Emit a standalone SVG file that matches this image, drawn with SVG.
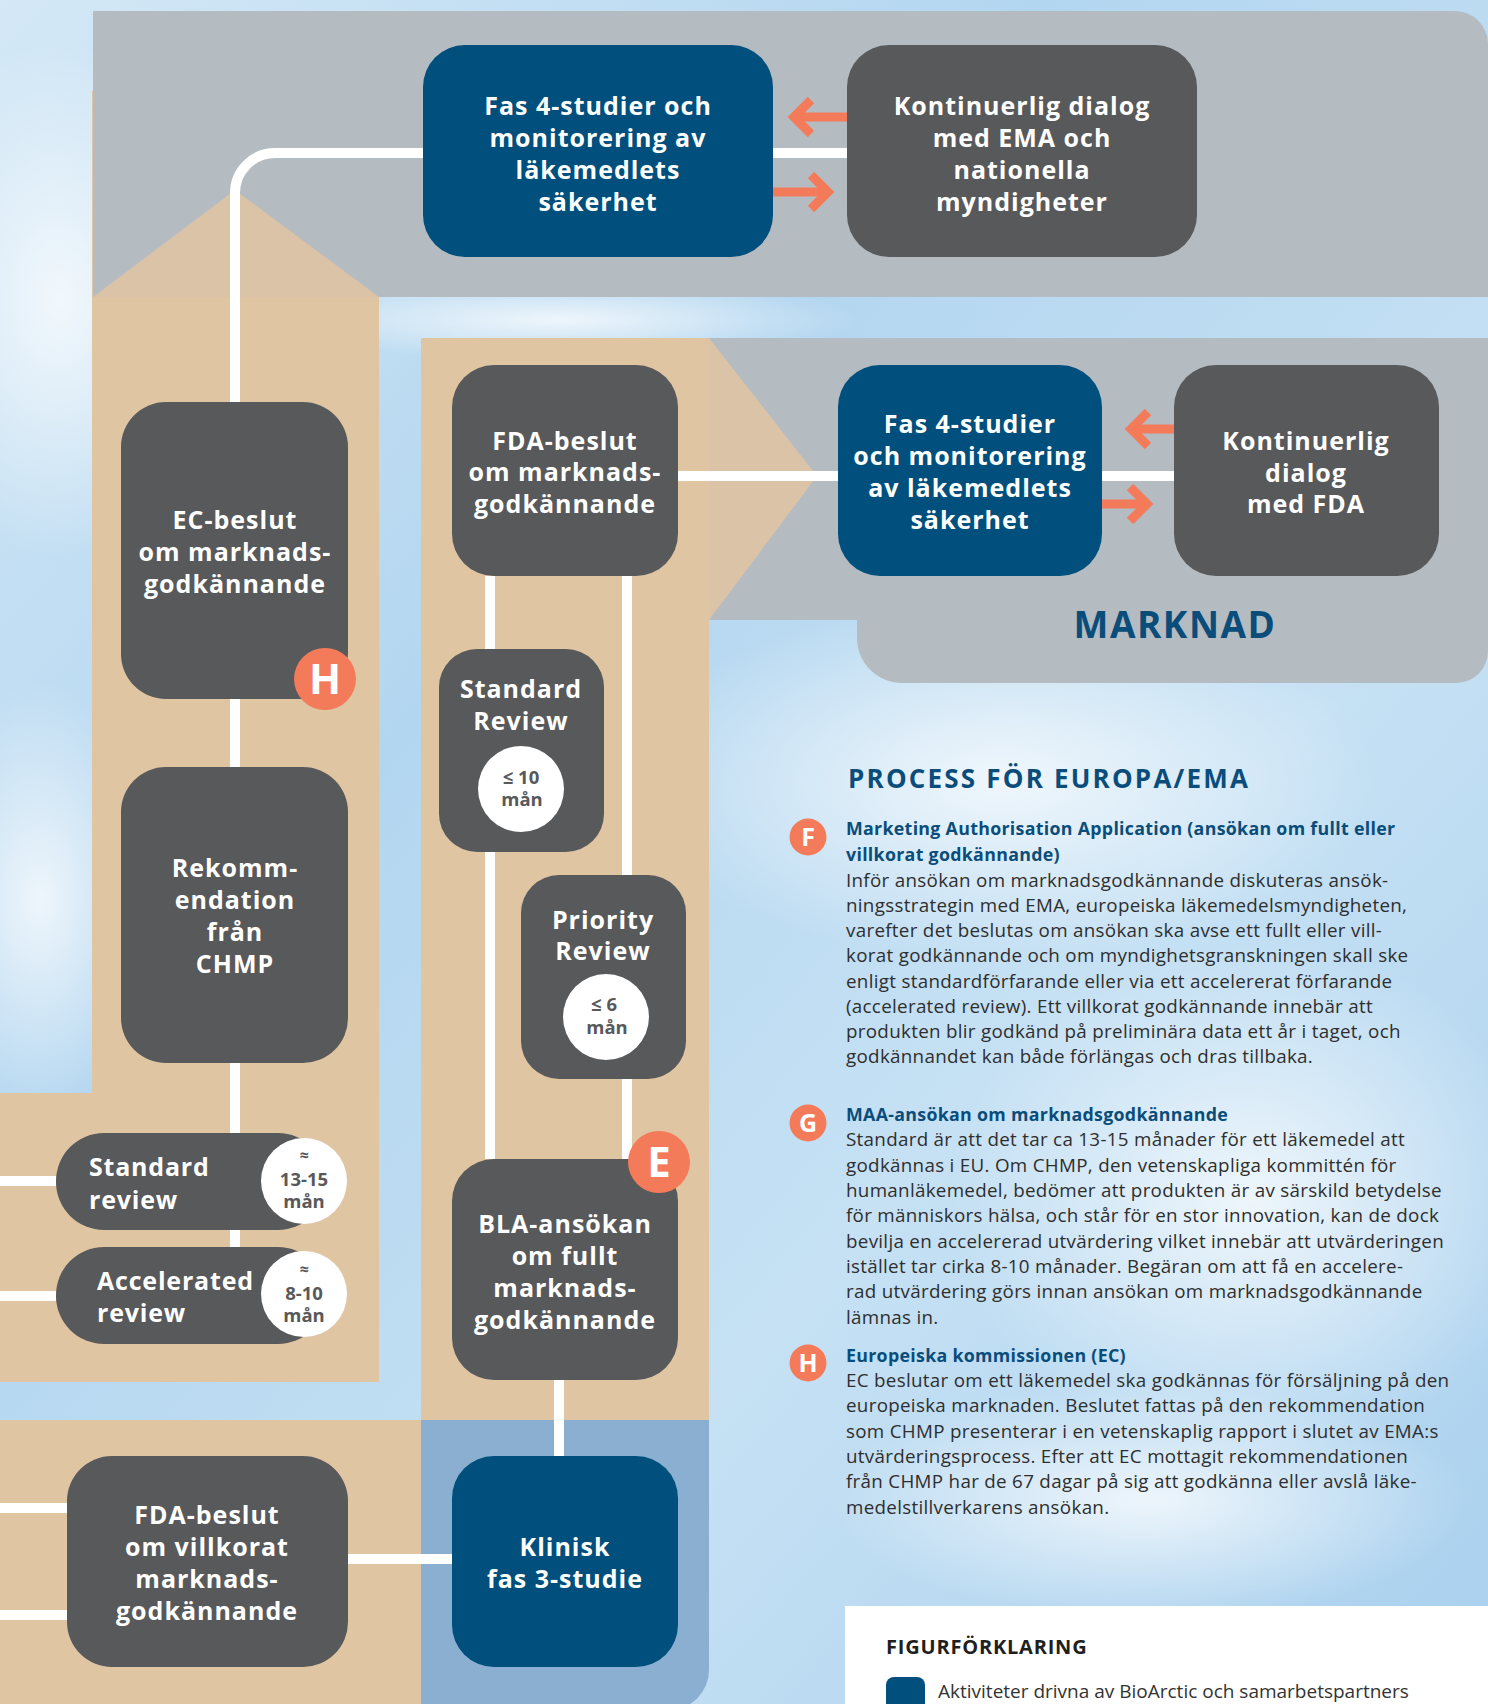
<svg xmlns="http://www.w3.org/2000/svg" width="1488" height="1704" viewBox="0 0 1488 1704">
<defs>
<linearGradient id="bg" x1="0" y1="0" x2="1" y2="1">
<stop offset="0" stop-color="#d4e8f6"/>
<stop offset="0.35" stop-color="#b3d6f0"/>
<stop offset="0.65" stop-color="#c6e1f4"/>
<stop offset="1" stop-color="#a9d0ee"/>
</linearGradient>
<radialGradient id="cloud" cx="0.5" cy="0.5" r="0.5">
<stop offset="0" stop-color="#ffffff" stop-opacity="0.75"/>
<stop offset="1" stop-color="#ffffff" stop-opacity="0"/>
</radialGradient>
<marker id="chev" markerUnits="userSpaceOnUse" viewBox="0 0 32 40" markerWidth="32" markerHeight="40" refX="22" refY="20" orient="auto">
<path d="M5,3 L22,20 L5,37" fill="none" stroke="#f47b5a" stroke-width="9"/>
</marker>
<style>
.gray{fill:#b4bbc1}
.tan{fill:#e0c5a3}
.tri{fill:#dac3a6}
.dk{fill:#58595b}
.bl{fill:#004f7c}
.badge{fill:#f47b5a}
.wl{stroke:#ffffff;stroke-width:10;fill:none}
.ar{stroke:#f47b5a;stroke-width:9;fill:none;marker-end:url(#chev)}
.nt{font-family:"Open Sans","Liberation Sans",sans-serif;font-weight:700;font-size:25px;fill:#ffffff;text-anchor:middle;letter-spacing:1px}
.pt{font-family:"Open Sans","Liberation Sans",sans-serif;font-weight:700;font-size:25px;fill:#ffffff;letter-spacing:0.8px}
.ct{font-family:"Open Sans","Liberation Sans",sans-serif;font-weight:700;font-size:18.5px;fill:#58595b;text-anchor:middle}
.cs{font-family:"Open Sans","Liberation Sans",sans-serif;font-weight:700;font-size:16px;fill:#58595b;text-anchor:middle}
.bt{font-family:"Open Sans","Liberation Sans",sans-serif;font-weight:700;font-size:42px;fill:#ffffff;text-anchor:middle}
.sbt{font-family:"Open Sans","Liberation Sans",sans-serif;font-weight:700;font-size:25px;fill:#ffffff;text-anchor:middle}
.mk{font-family:"Open Sans","Liberation Sans",sans-serif;font-weight:700;font-size:37px;fill:#0a4d7a;text-anchor:middle;letter-spacing:1.5px}
.h1{font-family:"Open Sans","Liberation Sans",sans-serif;font-weight:700;font-size:26px;fill:#0a4d7a;letter-spacing:2.2px}
.h2{font-family:"Open Sans","Liberation Sans",sans-serif;font-weight:700;font-size:17.8px;fill:#0a4d7a;letter-spacing:0.3px}
.tx{font-family:"Open Sans","Liberation Sans",sans-serif;font-size:18.8px;fill:#2e2e2e;letter-spacing:0.3px}
.lg{font-family:"Open Sans","Liberation Sans",sans-serif;font-weight:700;font-size:20px;fill:#1f1f1f;letter-spacing:0.8px}
.lt{font-family:"Open Sans","Liberation Sans",sans-serif;font-size:19px;fill:#333333}
</style>
</defs>

<!-- background -->
<rect x="0" y="0" width="1488" height="1704" fill="url(#bg)"/>
<ellipse cx="60" cy="300" rx="160" ry="260" fill="url(#cloud)"/>
<ellipse cx="40" cy="900" rx="120" ry="220" fill="url(#cloud)"/>
<ellipse cx="1000" cy="780" rx="380" ry="180" fill="url(#cloud)"/>
<ellipse cx="1250" cy="1200" rx="300" ry="260" fill="url(#cloud)"/>
<ellipse cx="560" cy="320" rx="300" ry="40" fill="url(#cloud)"/>
<ellipse cx="1150" cy="1500" rx="320" ry="120" fill="url(#cloud)"/>

<!-- regions -->
<polygon class="tan" points="92,91 379,91 379,1382 0,1382 0,1093 92,1093"/>
<rect class="tan" x="421" y="338" width="288" height="1082"/>
<rect class="tan" x="0" y="1420" width="421" height="284"/>
<path d="M421,1420 H709 V1670 A40,40 0 0 1 669,1710 H421 Z" fill="#8aafd0"/>
<path class="gray" d="M93,11 H1455 A33,33 0 0 1 1488,44 V297 H93 Z"/>
<polygon class="tri" points="93,297 235,190 379,297"/>
<path class="gray" d="M709,338 H1488 V651 A32,32 0 0 1 1456,683 H902 A45,45 0 0 1 857,638 V620 H709 Z"/>
<polygon class="tri" points="709,338 817,476 709,620"/>
<text class="mk" x="1175" y="638">MARKNAD</text>

<!-- connectors -->
<g id="connectors">
<path class="wl" d="M423,153 H275 A40,40 0 0 0 235,193 V402"/>
<line class="wl" x1="235" y1="699" x2="235" y2="767"/>
<line class="wl" x1="235" y1="1063" x2="235" y2="1133"/>
<line class="wl" x1="235" y1="1230" x2="235" y2="1247"/>
<line class="wl" x1="0" y1="1181" x2="56" y2="1181"/>
<line class="wl" x1="0" y1="1296" x2="56" y2="1296"/>
<line class="wl" x1="773" y1="153" x2="847" y2="153"/>
<line class="wl" x1="678" y1="476" x2="838" y2="476"/>
<line class="wl" x1="1102" y1="476" x2="1174" y2="476"/>
<line class="wl" x1="490" y1="576" x2="490" y2="649"/>
<line class="wl" x1="490" y1="852" x2="490" y2="1159"/>
<line class="wl" x1="627" y1="576" x2="627" y2="875"/>
<line class="wl" x1="627" y1="1079" x2="627" y2="1159"/>
<line class="wl" x1="559" y1="1380" x2="559" y2="1456"/>
<line class="wl" x1="348" y1="1559" x2="452" y2="1559"/>
<line class="wl" x1="0" y1="1508" x2="67" y2="1508"/>
<line class="wl" x1="0" y1="1615" x2="67" y2="1615"/>
<line class="ar" x1="847" y1="117" x2="794" y2="117"/>
<line class="ar" x1="773" y1="192" x2="828" y2="192"/>
<line class="ar" x1="1174" y1="429" x2="1131" y2="429"/>
<line class="ar" x1="1102" y1="504" x2="1147" y2="504"/>
</g>

<!-- nodes -->
<g id="fas4-eu">
<rect class="bl" x="423" y="45" width="350" height="212" rx="42"/>
<text class="nt" x="598" y="115">Fas 4-studier och</text>
<text class="nt" x="598" y="147">monitorering av</text>
<text class="nt" x="598" y="179">läkemedlets</text>
<text class="nt" x="598" y="211">säkerhet</text>
</g>
<g id="dialog-ema">
<rect class="dk" x="847" y="45" width="350" height="212" rx="42"/>
<text class="nt" x="1022" y="115">Kontinuerlig dialog</text>
<text class="nt" x="1022" y="147">med EMA och</text>
<text class="nt" x="1022" y="179">nationella</text>
<text class="nt" x="1022" y="211">myndigheter</text>
</g>
<g id="ec-beslut">
<rect class="dk" x="121" y="402" width="227" height="297" rx="45"/>
<text class="nt" x="235" y="529">EC-beslut</text>
<text class="nt" x="235" y="561">om marknads-</text>
<text class="nt" x="235" y="593">godkännande</text>
<circle class="badge" cx="325" cy="679" r="31"/>
<text class="bt" x="325" y="694">H</text>
</g>
<g id="chmp">
<rect class="dk" x="121" y="767" width="227" height="296" rx="45"/>
<text class="nt" x="235" y="877">Rekomm-</text>
<text class="nt" x="235" y="909">endation</text>
<text class="nt" x="235" y="941">från</text>
<text class="nt" x="235" y="973">CHMP</text>
</g>
<g id="standard-review-eu">
<rect class="dk" x="56" y="1133" width="270" height="97" rx="48"/>
<circle cx="304" cy="1181" r="43" fill="#ffffff"/>
<text class="pt" x="89" y="1176">Standard</text>
<text class="pt" x="89" y="1209">review</text>
<text class="cs" x="304" y="1161">≈</text>
<text class="ct" x="304" y="1186">13-15</text>
<text class="ct" x="304" y="1208">mån</text>
</g>
<g id="accelerated-review-eu">
<rect class="dk" x="56" y="1247" width="270" height="97" rx="48"/>
<circle cx="304" cy="1294" r="43" fill="#ffffff"/>
<text class="pt" x="97" y="1290">Accelerated</text>
<text class="pt" x="97" y="1322">review</text>
<text class="cs" x="304" y="1275">≈</text>
<text class="ct" x="304" y="1300">8-10</text>
<text class="ct" x="304" y="1322">mån</text>
</g>
<g id="fda-beslut">
<rect class="dk" x="452" y="365" width="226" height="211" rx="42"/>
<text class="nt" x="565" y="450">FDA-beslut</text>
<text class="nt" x="565" y="481">om marknads-</text>
<text class="nt" x="565" y="513">godkännande</text>
</g>
<g id="fas4-us">
<rect class="bl" x="838" y="365" width="264" height="211" rx="42"/>
<text class="nt" x="970" y="433">Fas 4-studier</text>
<text class="nt" x="970" y="465">och monitorering</text>
<text class="nt" x="970" y="497">av läkemedlets</text>
<text class="nt" x="970" y="529">säkerhet</text>
</g>
<g id="dialog-fda">
<rect class="dk" x="1174" y="365" width="265" height="211" rx="42"/>
<text class="nt" x="1306" y="450">Kontinuerlig</text>
<text class="nt" x="1306" y="482">dialog</text>
<text class="nt" x="1306" y="513">med FDA</text>
</g>
<g id="standard-review-us">
<rect class="dk" x="439" y="649" width="165" height="203" rx="38"/>
<text class="nt" x="521" y="698">Standard</text>
<text class="nt" x="521" y="730">Review</text>
<circle cx="521" cy="789" r="43" fill="#ffffff"/>
<text class="ct" x="521" y="784">≤ 10</text>
<text class="ct" x="522" y="806">mån</text>
</g>
<g id="priority-review-us">
<rect class="dk" x="521" y="875" width="165" height="204" rx="38"/>
<text class="nt" x="603" y="929">Priority</text>
<text class="nt" x="603" y="960">Review</text>
<circle cx="606" cy="1017" r="43" fill="#ffffff"/>
<text class="ct" x="604" y="1011">≤ 6</text>
<text class="ct" x="607" y="1034">mån</text>
</g>
<g id="bla">
<rect class="dk" x="452" y="1159" width="226" height="221" rx="42"/>
<text class="nt" x="565" y="1233">BLA-ansökan</text>
<text class="nt" x="565" y="1265">om fullt</text>
<text class="nt" x="565" y="1297">marknads-</text>
<text class="nt" x="565" y="1329">godkännande</text>
<circle class="badge" cx="659" cy="1162" r="31"/>
<text class="bt" x="659" y="1177">E</text>
</g>
<g id="klinisk">
<rect class="bl" x="452" y="1456" width="226" height="211" rx="42"/>
<text class="nt" x="565" y="1556">Klinisk</text>
<text class="nt" x="565" y="1588">fas 3-studie</text>
</g>
<g id="fda-villkorat">
<rect class="dk" x="67" y="1456" width="281" height="211" rx="45"/>
<text class="nt" x="207" y="1524">FDA-beslut</text>
<text class="nt" x="207" y="1556">om villkorat</text>
<text class="nt" x="207" y="1588">marknads-</text>
<text class="nt" x="207" y="1620">godkännande</text>
</g>

<!-- text panel -->
<g id="panel">
<text class="h1" x="848" y="788">PROCESS FÖR EUROPA/EMA</text>
<circle class="badge" cx="808" cy="837" r="18.5"/>
<text class="sbt" x="808" y="846">F</text>
<text class="h2" x="846" y="835">Marketing Authorisation Application (ansökan om fullt eller</text>
<text class="h2" x="846" y="861">villkorat godkännande)</text>
<text class="tx" x="846" y="887">Inför ansökan om marknadsgodkännande diskuteras ansök-</text>
<text class="tx" x="846" y="912">ningsstrategin med EMA, europeiska läkemedelsmyndigheten,</text>
<text class="tx" x="846" y="937">varefter det beslutas om ansökan ska avse ett fullt eller vill-</text>
<text class="tx" x="846" y="962">korat godkännande och om myndighetsgranskningen skall ske</text>
<text class="tx" x="846" y="988">enligt standardförfarande eller via ett accelererat förfarande</text>
<text class="tx" x="846" y="1013">(accelerated review). Ett villkorat godkännande innebär att</text>
<text class="tx" x="846" y="1038">produkten blir godkänd på preliminära data ett år i taget, och</text>
<text class="tx" x="846" y="1063">godkännandet kan både förlängas och dras tillbaka.</text>

<circle class="badge" cx="808" cy="1123" r="18.5"/>
<text class="sbt" x="808" y="1132">G</text>
<text class="h2" x="846" y="1121">MAA-ansökan om marknadsgodkännande</text>
<text class="tx" x="846" y="1146">Standard är att det tar ca 13-15 månader för ett läkemedel att</text>
<text class="tx" x="846" y="1172">godkännas i EU. Om CHMP, den vetenskapliga kommittén för</text>
<text class="tx" x="846" y="1197">humanläkemedel, bedömer att produkten är av särskild betydelse</text>
<text class="tx" x="846" y="1222">för människors hälsa, och står för en stor innovation, kan de dock</text>
<text class="tx" x="846" y="1248">bevilja en accelererad utvärdering vilket innebär att utvärderingen</text>
<text class="tx" x="846" y="1273">istället tar cirka 8-10 månader. Begäran om att få en accelere-</text>
<text class="tx" x="846" y="1298">rad utvärdering görs innan ansökan om marknadsgodkännande</text>
<text class="tx" x="846" y="1324">lämnas in.</text>

<circle class="badge" cx="808" cy="1363" r="18.5"/>
<text class="sbt" x="808" y="1372">H</text>
<text class="h2" x="846" y="1362">Europeiska kommissionen (EC)</text>
<text class="tx" x="846" y="1387">EC beslutar om ett läkemedel ska godkännas för försäljning på den</text>
<text class="tx" x="846" y="1412">europeiska marknaden. Beslutet fattas på den rekommendation</text>
<text class="tx" x="846" y="1438">som CHMP presenterar i en vetenskaplig rapport i slutet av EMA:s</text>
<text class="tx" x="846" y="1463">utvärderingsprocess. Efter att EC mottagit rekommendationen</text>
<text class="tx" x="846" y="1488">från CHMP har de 67 dagar på sig att godkänna eller avslå läke-</text>
<text class="tx" x="846" y="1514">medelstillverkarens ansökan.</text>
</g>

<!-- legend -->
<g id="legend">
<rect x="845" y="1606" width="643" height="98" fill="#ffffff"/>
<text class="lg" x="886" y="1654">FIGURFÖRKLARING</text>
<rect class="bl" x="886" y="1677" width="39" height="45" rx="8"/>
<text class="lt" x="938" y="1698">Aktiviteter drivna av BioArctic och samarbetspartners</text>
</g>
</svg>
